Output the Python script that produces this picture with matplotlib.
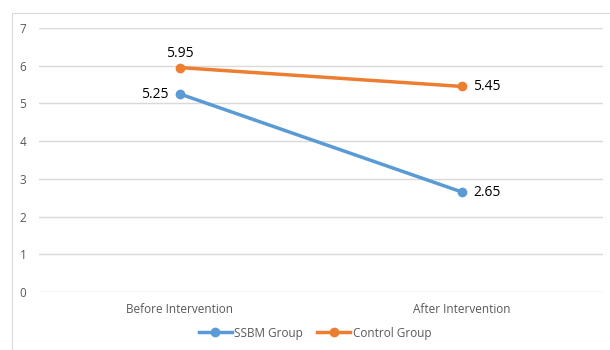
import matplotlib
matplotlib.use("Agg")
import matplotlib.pyplot as plt
from matplotlib.patches import Rectangle

categories = ["Before Intervention", "After Intervention"]
ssbm = [5.25, 2.65]
control = [5.95, 5.45]
yticks = [0, 1, 2, 3, 4, 5, 6, 7]

plt.rcParams['font.family'] = ['Open Sans', 'DejaVu Sans']

fig = plt.figure(figsize=(6.1, 3.5), dpi=100)
fig.patches.append(Rectangle((12/610, -0.1), 1.2, 1 - 13/350 + 0.1, transform=fig.transFigure,
                             fill=False, edgecolor="#D9D9D9", linewidth=0.8))
ax = fig.add_axes([39/610, 1 - 292/350, (603 - 39)/610, (292 - 28)/350])

x = [0, 1]
blue = "#5B9BD5"
orange = "#ED7D31"
ax.plot(x, ssbm, color=blue, lw=2.5, marker="o", ms=6, label="SSBM Group", zorder=3)
ax.plot(x, control, color=orange, lw=2.5, marker="o", ms=6, label="Control Group", zorder=3)

ax.set_xlim(-0.5, 1.5)
ax.set_ylim(0, 7)
ax.set_yticks(yticks)
ax.set_xticks(x)
ax.set_xticklabels(categories)
ax.grid(axis="y", color="#D9D9D9", lw=1)
ax.set_axisbelow(True)
for s in ax.spines.values():
    s.set_visible(False)
ax.tick_params(axis="both", length=0, colors="#595959", labelsize=8.5)
ax.tick_params(axis="y", pad=14)
ax.tick_params(axis="x", pad=8)
for lab in ax.get_yticklabels():
    lab.set_horizontalalignment("left")

# data labels
ax.annotate(f"{control[0]:.2f}", (x[0], control[0]), xytext=(0, 5), textcoords="offset points",
            ha="center", va="bottom", fontsize=10, color="black")
ax.annotate(f"{ssbm[0]:.2f}", (x[0], ssbm[0]), xytext=(-8, 0), textcoords="offset points",
            ha="right", va="center", fontsize=10, color="black")
ax.annotate(f"{control[1]:.2f}", (x[1], control[1]), xytext=(8, 0), textcoords="offset points",
            ha="left", va="center", fontsize=10, color="black")
ax.annotate(f"{ssbm[1]:.2f}", (x[1], ssbm[1]), xytext=(8, 0), textcoords="offset points",
            ha="left", va="center", fontsize=10, color="black")

leg = fig.legend(loc="center", bbox_to_anchor=(315/610, 1 - 333/350), ncol=2, frameon=False,
                 fontsize=8.5, handlelength=2.8, columnspacing=1.2, handletextpad=0.2)
for t in leg.get_texts():
    t.set_color("#595959")

fig.savefig("out.png", dpi=100)
